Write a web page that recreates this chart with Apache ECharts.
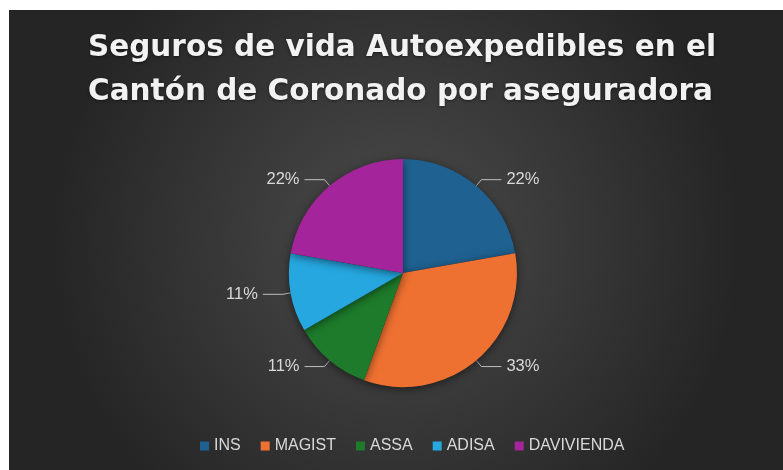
<!DOCTYPE html>
<html><head><meta charset="utf-8">
<script src="https://cdn.jsdelivr.net/npm/echarts@6/dist/echarts.min.js"></script>
<style>html,body{margin:0;padding:0;background:#fff;}#c{position:absolute;left:9px;top:10px;width:774px;height:460px;}</style>
</head><body><div id="c"></div>
<script>
const categories = ['INS', 'MAGIST', 'ASSA', 'ADISA', 'DAVIVIENDA'];
const values = [2, 3, 1, 1, 2];
const colors = ['#1f6190', '#ef7131', '#1d7b2b', '#26a7e0', '#a4249b'];
const titleLines = ['Seguros de vida Autoexpedibles en el', 'Cantón de Coronado por aseguradora'];

const chart = echarts.init(document.getElementById('c'), null, {renderer: 'canvas'});
chart.setOption({
  backgroundColor: {type: 'radial', x: 0.5, y: 0.5, r: 0.75,
    colorStops: [{offset: 0, color: '#4b4b4b'}, {offset: 1, color: '#252525'}]},
  title: {text: titleLines.join('\n'), left: 74, top: 11,
    textStyle: {color: '#f2f2f2', fontFamily: 'DejaVu Sans', fontWeight: 'bold', fontSize: 29.5, lineHeight: 44,
      textShadowColor: 'rgba(0,0,0,0.5)', textShadowBlur: 3, textShadowOffsetY: 1}},
  legend: {bottom: 11, left: 186, itemWidth: 9, itemHeight: 9, itemGap: 20, icon: 'rect',
    textStyle: {color: '#d9d9d9', fontFamily: 'Liberation Sans', fontSize: 16}},
  color: colors,
  series: [{
    type: 'pie', center: ['50.9%', '57.2%'], radius: 114, startAngle: 90, clockwise: true,
    data: categories.map((n, i) => ({name: n, value: values[i]})),
    itemStyle: {shadowColor: 'rgba(0,0,0,0.5)', shadowBlur: 8, shadowOffsetY: 2},
    label: {show: true, position: 'outside', color: '#d9d9d9', fontFamily: 'Liberation Sans', fontSize: 16.5,
      formatter: p => Math.round(p.percent) + '%'},
    labelLine: {show: true, length: 8, length2: 20, lineStyle: {color: '#bfbfbf', width: 1}},
    emphasis: {disabled: true}
  }]
});
</script></body></html>
